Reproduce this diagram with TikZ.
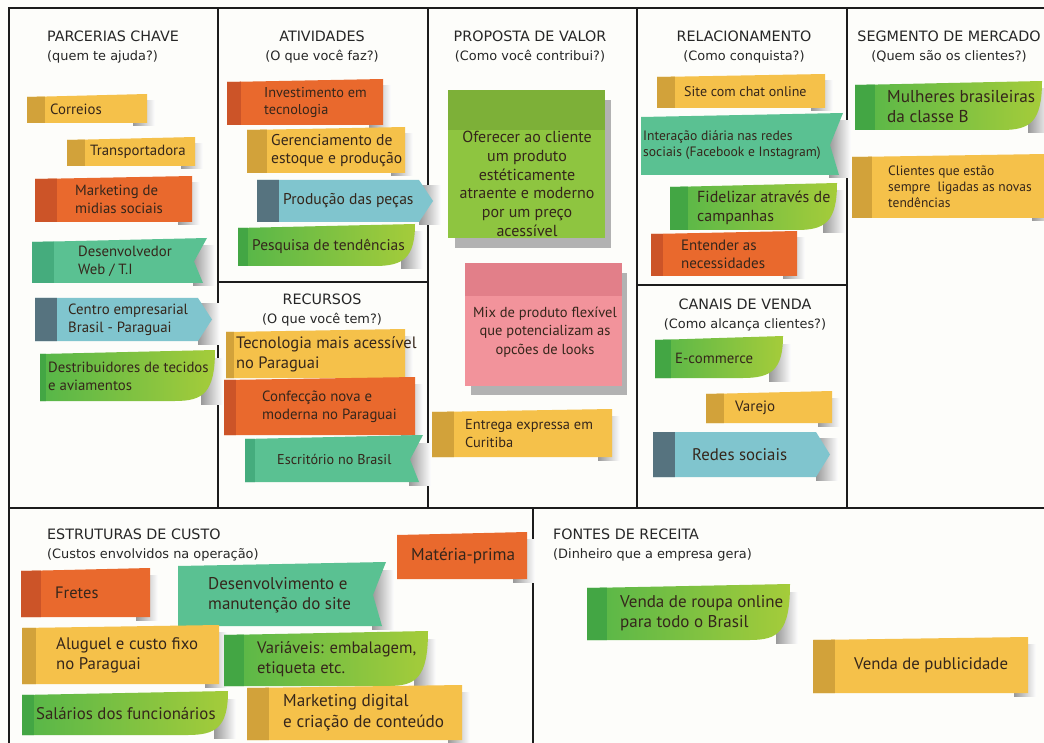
\documentclass[tikz,border=0pt]{standalone}
\usepackage{fontspec}
\setmainfont{PT Sans}
\newfontfamily\hfont{DejaVu Sans}
\definecolor{bg}{HTML}{FDFDFA}
\definecolor{gridc}{HTML}{1C1C1C}
\definecolor{notetxt}{HTML}{35261B}
\definecolor{Ymain}{HTML}{F5C14A}
\definecolor{Ystrip}{HTML}{D2A23A}
\definecolor{Omain}{HTML}{E9692D}
\definecolor{Ostrip}{HTML}{CC5428}
\definecolor{Tmain}{HTML}{5AC192}
\definecolor{Tstrip}{HTML}{45AC7D}
\definecolor{Bmain}{HTML}{80C5CE}
\definecolor{Bstrip}{HTML}{56737F}
\definecolor{Gleft}{HTML}{55B649}
\definecolor{Gright}{HTML}{A5CC3A}
\definecolor{Gstrip}{HTML}{43A644}
\definecolor{bigG}{HTML}{8EC540}
\definecolor{bigGband}{HTML}{7DB038}
\definecolor{bigP}{HTML}{F2939B}
\definecolor{bigPband}{HTML}{E27F89}
\def\parsecoords#1/#2/#3/#4/#5\relax{\def\nxa{#1}\def\nya{#2}\def\nxb{#3}\def\nyb{#4}\def\nsw{#5}}
\newcommand\htitle[1]{{\fontsize{14.3}{18}\selectfont #1}}
\tikzset{
  gridline/.style={draw=gridc, line width=2pt},
  head/.style={font=\hfont\fontsize{12.9}{18.5}\selectfont, text=black!85, inner sep=0pt},
  fs/.style={font=\fontsize{#1}{\fpeval{1.2*#1}}\selectfont},
  notetext/.style={fs=14.8, text=notetxt, align=left, inner sep=0pt, anchor=west},
  palY/.style={fill=Ymain}, palO/.style={fill=Omain}, palT/.style={fill=Tmain},
  palB/.style={fill=Bmain}, palG/.style={left color=Gleft, right color=Gright},
  bodyplain/.style={insert path={(\nxa,\nya+2) -- (\nxb,\nya-1) -- (\nxb,\nyb) -- (\nxa,\nyb) -- cycle}},
  bodycurl/.style={insert path={(\nxa,\nya+2) -- (\nxb,\nya-2) .. controls (\nxb,\nyb-8) and (\nxb-12,\nyb) .. (\nxb-40,\nyb) -- (\nxa,\nyb) -- cycle}},
  bodynotch/.style={insert path={(\nxa,\nya+2) -- (\nxb,\nya-2) -- (\nxb-13,\nym) -- (\nxb-4,\nyb) -- (\nxa,\nyb) -- cycle}},
  bodyarrow/.style={insert path={(\nxa,\nya) -- (\nxb-14,\nya) -- (\nxb,\nym) -- (\nxb-14,\nyb) -- (\nxa,\nyb) -- cycle}},
}
\newcommand\snote[7]{%
  \parsecoords#4\relax
  \pgfmathsetmacro\nym{(\nya+\nyb)/2}%
  \shade[left color=black!40, right color=white] (\nxb-14,\nya+6) rectangle (\nxb+8,\nyb+3);
  \path[pal#3, body#2];
  \begin{scope}
    \clip[body#2];
    \fill[#3strip] (\nxa-2,\nya-6) rectangle (\nxa+\nsw,\nyb+2);
  \end{scope}
  \node[notetext,#7] (#1) at (#5,\nym) {#6};
}
\begin{document}
\begin{tikzpicture}[x=1pt,y=-1pt]
\useasboundingbox (0,0) rectangle (1044,743);
\fill[bg] (0,0) rectangle (1044,743);
% grid
\draw[gridline] (1060,8) -- (9,8) -- (9,760);
\draw[gridline] (9,508) -- (1060,508);
\draw[gridline] (218,8) -- (218,508);
\draw[gridline] (428,8) -- (428,508);
\draw[gridline] (637,8) -- (637,508);
\draw[gridline] (847,8) -- (847,508);
\draw[gridline] (218,282) -- (428,282);
\draw[gridline] (637,285) -- (847,285);
\draw[gridline] (533,508) -- (533,760);
% headers
\node[head, anchor=north west, align=left] (hp) at (47,31) {\htitle{PARCERIAS CHAVE}\\(quem te ajuda?)};
\node[head, anchor=north, align=center] (ha) at (322,31) {\htitle{ATIVIDADES}\\(O que você faz?)};
\node[head, anchor=north, align=center] (hv) at (530,31) {\htitle{PROPOSTA DE VALOR}\\(Como você contribui?)};
\node[head, anchor=north, align=center] (hr) at (744,31) {\htitle{RELACIONAMENTO}\\(Como conquista?)};
\node[head, anchor=north, align=center] (hs) at (949,31) {\htitle{SEGMENTO DE MERCADO}\\(Quem são os clientes?)};
\node[head, anchor=north, align=center] (hk) at (322,294) {\htitle{RECURSOS}\\(O que você tem?)};
\node[head, anchor=north, align=center] (hc) at (745,299) {\htitle{CANAIS DE VENDA}\\(Como alcança clientes?)};
\node[head, anchor=north west, align=left] (he) at (47,529) {\htitle{ESTRUTURAS DE CUSTO}\\(Custos envolvidos na operação)};
\node[head, anchor=north west, align=left] (hf) at (553,529) {\htitle{FONTES DE RECEITA}\\(Dinheiro que a empresa gera)};
% parcerias
\snote{n1}{plain}{Y}{27/95/147/123/18}{50}{Correios}{}
\snote{n2}{plain}{Y}{67/138/195/166/18}{90}{Transportadora}{}
\snote{n3}{plain}{O}{35/177/192/222/22}{75}{Marketing de\\midias sociais}{}
\snote{n4}{notch}{T}{32/240/207/283/22}{78}{Desenvolvedor\\Web / T.I}{}
\snote{n5}{arrow}{B}{35/298/212/341/22}{68}{Centro empresarial\\Brasil - Paraguai}{}
\snote{n6}{curl}{G}{40/352/215/401/6}{48}{Destribuidores de tecidos\\e aviamentos}{}
% atividades
\snote{a1}{plain}{O}{227/80/383/125/14}{264}{Investimento em\\tecnologia}{fs=14.3}
\snote{a2}{plain}{Y}{247/128/405/173/20}{271}{Gerenciamento de\\estoque e produção}{fs=15.6}
\snote{a3}{arrow}{B}{257/180/433/222/22}{283}{Produção das peças}{fs=15.6}
\snote{a4}{curl}{G}{238/226/415/266/10}{252}{Pesquisa de tendências}{fs=15.4}
% recursos
\snote{r1}{plain}{Y}{226/330/405/378/8}{236}{Tecnologia mais acessível\\no Paraguai}{fs=16.5}
\snote{r2}{plain}{O}{224/378/415/435/12}{262}{Confecção nova e\\moderna no Paraguai}{fs=14.8}
\snote{r3}{notch}{T}{245/437/423/482/10}{277}{Escritório no Brasil}{fs=14.2}
% proposta
\fill[black!30] (455,100) rectangle (611,248);
\fill[bigG] (448,90) rectangle (605,238);
\fill[bigGband] (448,90) rectangle (605,130);
\node[notetext, anchor=center, align=center, font=\fontsize{16}{18.7}\selectfont] (pv1) at (527,184) {Oferecer ao cliente\\um produto\\estéticamente\\atraente e moderno\\por um preço\\acessível};
\fill[black!30] (471,273) rectangle (627,395);
\fill[bigP] (465,263) rectangle (622,386);
\fill[bigPband] (465,263) rectangle (622,296);
\node[notetext, anchor=center, align=center, font=\fontsize{14.5}{18.7}\selectfont] (pv2) at (545,332) {Mix de produto flexível\\que potencializam as\\opcões de looks};
\snote{p3}{plain}{Y}{432/410/612/457/22}{465}{Entrega expressa em\\Curitiba}{fs=14.4}
% relacionamento
\snote{c1}{plain}{Y}{657/75/825/108/18}{684}{Site com chat online}{fs=14}
\snote{c2}{notch}{T}{641/115/843/175/0}{643}{Interação diária nas redes\\sociais (Facebook e Instagram)}{fs=13.6}
\snote{c3}{curl}{G}{670/185/837/230/18}{697}{Fidelizar através de\\campanhas}{fs=16}
\snote{c4}{plain}{O}{651/232/797/276/12}{681}{Entender as\\necessidades}{fs=15}
% canais
\snote{v1}{curl}{G}{655/338/783/378/16}{675}{E-commerce}{}
\snote{v2}{plain}{Y}{706/392/832/423/18}{735}{Varejo}{fs=15}
\snote{v3}{arrow}{B}{653/432/830/477/22}{692}{Redes sociais}{fs=16.8}
% segmento
\snote{s1}{curl}{G}{855/83/1042/130/20}{887}{Mulheres brasileiras\\da classe B}{fs=17.2}
\snote{s2}{plain}{Y}{852/155/1046/218/20}{888}{Clientes que estão\\sempre\ \ ligadas as novas\\tendências}{fs=13.5}
% custos
\snote{k1}{plain}{O}{397/533/527/579/0}{411}{Matéria-prima}{fs=17.2}
\snote{k2}{plain}{O}{21/569/150/617/20}{55}{Fretes}{fs=16.5}
\snote{k3}{notch}{T}{178/564/386/626/0}{208}{Desenvolvimento e\\manutenção do site}{fs=17}
\snote{k4}{plain}{Y}{22/626/219/684/14}{56}{Aluguel e custo fixo\\no Paraguai}{fs=16.8}
\snote{k5}{curl}{G}{224/633/428/686/20}{257}{Variáveis: embalagem,\\etiqueta etc.}{fs=16.6}
\snote{k6}{curl}{G}{22/693/228/735/12}{36}{Salários dos funcionários}{fs=16.8}
\snote{k7}{plain}{Y}{247/686/462/740/22}{283}{Marketing digital\\e criação de conteúdo}{fs=17.2}
% receitas
\snote{f1}{curl}{G}{587/586/790/640/20}{620}{Venda de roupa online\\para todo o Brasil}{fs=17}
\snote{f2}{plain}{Y}{813/638/1028/693/22}{854}{Venda de publicidade}{fs=16.8}
\end{tikzpicture}
\end{document}
